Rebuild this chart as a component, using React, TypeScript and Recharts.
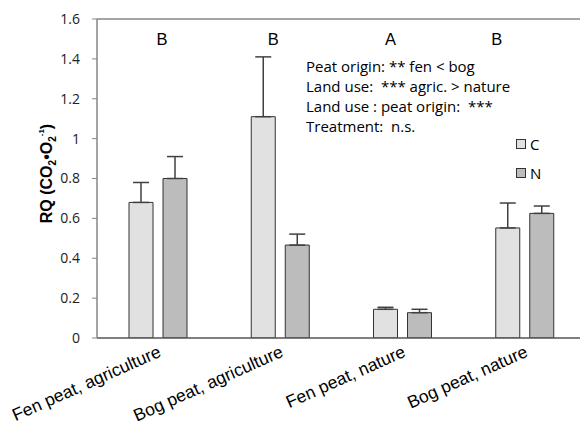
import React from 'react';
import { BarChart, Bar, XAxis, YAxis, ErrorBar, Legend, ReferenceLine, ReferenceDot } from 'recharts';

// Respiratory quotient per peat type / land use, control (C) vs nitrogen (N)
const sites = ['Fen peat, agriculture', 'Bog peat, agriculture', 'Fen peat, nature', 'Bog peat, nature'];
const controlRQ = [0.68, 1.11, 0.144, 0.552];
const controlSE = [0.1, 0.3, 0.01, 0.125];
const nitrogenRQ = [0.8, 0.466, 0.127, 0.625];
const nitrogenSE = [0.11, 0.055, 0.017, 0.037];
const groupLetters = ['B', 'B', 'A', 'B'];
const yTicks = [0, 0.2, 0.4, 0.6, 0.8, 1, 1.2, 1.4, 1.6];
const statLines = [
  'Peat origin: ** fen < bog',
  'Land use:  *** agric. > nature',
  'Land use : peat origin:  ***',
  'Treatment:  n.s.',
];

const rows = sites.map((site, i) => ({
  site,
  C: controlRQ[i],
  N: nitrogenRQ[i],
  Cerr: [0, controlSE[i]],
  Nerr: [0, nitrogenSE[i]],
}));

const FILL_C = '#e1e1e1';
const FILL_N = '#bcbcbc';
const EDGE = '#333333';
const NUM_FONT = '"Open Sans", Lato, sans-serif';
const ARIAL = '"Liberation Sans", Arial, sans-serif';

// horizontal nudge of each significance letter relative to its group centre
const letterNudge = [4, -7, -12, -28];

const CategoryTick = (props: any) => {
  const { x, y, payload } = props;
  const ax = x + 4;
  const ay = y + 18;
  return (
    <text
      x={ax}
      y={ay}
      transform={`rotate(-24 ${ax} ${ay})`}
      textAnchor="end"
      fontFamily={ARIAL}
      fontSize={17.5}
      fill="#000"
    >
      {payload.value}
    </text>
  );
};

const RQLabel = (props: any) => {
  const vb = props.viewBox || { x: 0, y: 0, width: 0, height: 0 };
  const cx = vb.x + 52;
  const cy = vb.y + vb.height / 2 - 5;
  return (
    <text
      x={cx}
      y={cy}
      transform={`rotate(-90 ${cx} ${cy})`}
      textAnchor="middle"
      fontFamily={ARIAL}
      fontWeight="bold"
      fontSize={16}
      fill="#000"
    >
      RQ (CO
      <tspan fontSize={10} dy={4}>2</tspan>
      <tspan dy={-4}>•O</tspan>
      <tspan fontSize={10} dy={4}>2</tspan>
      <tspan fontSize={8} dy={-12}>-1</tspan>
      <tspan dy={8}>)</tspan>
    </text>
  );
};

const LegendBox = () => (
  <div style={{ fontFamily: NUM_FONT, fontSize: 15, color: '#000', lineHeight: '16px' }}>
    {[
      { name: 'C', fill: FILL_C },
      { name: 'N', fill: FILL_N },
    ].map((item, i) => (
      <div key={item.name} style={{ display: 'flex', alignItems: 'center', marginTop: i === 0 ? 0 : 13 }}>
        <span
          style={{
            display: 'inline-block',
            width: 8,
            height: 8,
            background: item.fill,
            border: `1px solid ${EDGE}`,
            marginRight: 4,
          }}
        />
        <span>{item.name}</span>
      </div>
    ))}
  </div>
);

export default function App() {
  return (
    <div style={{ position: 'relative', width: 580, height: 425, background: '#fff', overflow: 'hidden' }}>
      <style>{'body{margin:0}'}</style>
      <BarChart
        width={580}
        height={425}
        data={rows}
        margin={{ top: 19, right: -6, bottom: 0, left: 0 }}
        barGap={10}
      >
        <XAxis
          dataKey="site"
          height={87}
          tickLine={false}
          tickSize={0}
          tickMargin={0}
          interval={0}
          axisLine={{ stroke: '#555555', strokeWidth: 1.5 }}
          tick={<CategoryTick />}
        />
        <YAxis
          width={97}
          domain={[0, 1.6]}
          ticks={yTicks}
          allowDataOverflow
          tickSize={5}
          tickMargin={12}
          axisLine={{ stroke: '#868686', strokeWidth: 1.5 }}
          tickLine={{ stroke: '#868686' }}
          tick={{ fontFamily: NUM_FONT, fontSize: 14, fill: '#222' }}
          label={{ content: (p: any) => <RQLabel viewBox={p.viewBox} /> }}
        />
        <ReferenceLine y={1.6} stroke="#868686" strokeWidth={1.5} />
        <Bar dataKey="C" name="C" fill={FILL_C} stroke={EDGE} strokeWidth={1} barSize={24} isAnimationActive={false}>
          <ErrorBar dataKey="Cerr" direction="y" width={8} stroke="#404040" strokeWidth={1.5} />
        </Bar>
        <Bar dataKey="N" name="N" fill={FILL_N} stroke={EDGE} strokeWidth={1} barSize={24} isAnimationActive={false}>
          <ErrorBar dataKey="Nerr" direction="y" width={8} stroke="#404040" strokeWidth={1.5} />
        </Bar>
        {sites.map((site, i) => (
          <ReferenceDot
            key={site}
            x={site}
            y={1.47}
            r={0}
            shape={(p: any) => (
              <text
                x={p.cx + letterNudge[i]}
                y={p.cy}
                textAnchor="middle"
                fontFamily={ARIAL}
                fontSize={16.5}
                fill="#000"
              >
                {groupLetters[i]}
              </text>
            )}
          />
        ))}
        <Legend
          layout="vertical"
          align="center"
          verticalAlign="middle"
          wrapperStyle={{ position: 'absolute', left: 516, top: 136, width: 40 }}
          content={() => <LegendBox />}
        />
      </BarChart>
      <svg
        width={580}
        height={425}
        style={{ position: 'absolute', left: 0, top: 0, pointerEvents: 'none' }}
      >
        {statLines.map((line, i) => (
          <text
            key={line}
            x={306}
            y={71.5 + i * 20.2}
            fontFamily={NUM_FONT}
            fontSize={15}
            fill="#000"
            style={{ whiteSpace: 'pre' }}
          >
            {line}
          </text>
        ))}
      </svg>
    </div>
  );
}
